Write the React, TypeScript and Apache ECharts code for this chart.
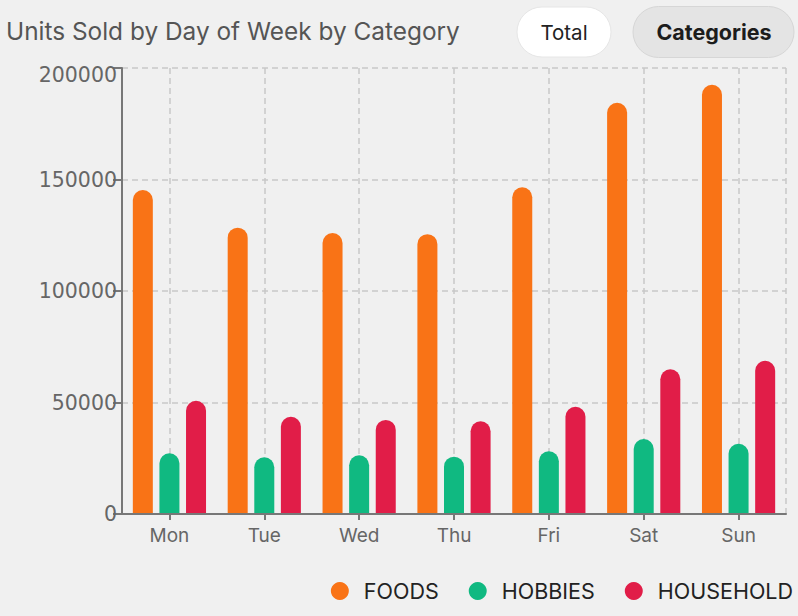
import React, { useEffect, useRef } from "react";
import * as echarts from "echarts";

const days = ["Mon", "Tue", "Wed", "Thu", "Fri", "Sat", "Sun"];
const foods = [145300, 128400, 126000, 125500, 146500, 184400, 192500];
const hobbies = [27200, 25400, 26300, 25700, 28100, 33600, 31500];
const household = [50800, 43600, 42200, 41600, 48100, 64900, 68700];
const yMax = 200000;
const yStep = 50000;
const titleText = "Units Sold by Day of Week by Category";
const buttons = ["Total", "Categories"];

const FONT = "Inter, 'Noto Sans', sans-serif";
const NUM_FONT = "'DejaVu Sans', Inter, sans-serif";

export default function App() {
  const ref = useRef<HTMLDivElement>(null);
  useEffect(() => {
    document.body.style.margin = "0";
    document.body.style.background = "#f0f0f0";
    const chart = echarts.init(ref.current!, null, { renderer: "svg" });
    // helper axis with half-step categories to draw vertical grid lines through category centers
    const halfSteps = Array.from({ length: days.length * 2 + 1 }, (_, i) => String(i));
    chart.setOption({
      animation: false,
      backgroundColor: "#f0f0f0",
      textStyle: { fontFamily: FONT },
      title: {
        text: titleText,
        left: 6,
        top: 19,
        padding: 0,
        textStyle: { fontFamily: FONT, fontSize: 24.4, fontWeight: "normal", color: "#555" },
      },
      graphic: [
        {
          type: "rect",
          shape: { x: 517, y: 7, width: 94, height: 50, r: 25 },
          style: { fill: "#ffffff", stroke: "#e6e6e6", lineWidth: 1 },
        },
        {
          type: "text",
          style: {
            text: buttons[0], x: 564, y: 32, align: "center", verticalAlign: "middle",
            font: `normal 20.5px ${FONT}`, fill: "#222",
          },
        },
        {
          type: "rect",
          shape: { x: 633, y: 6.5, width: 161, height: 51, r: 25.5 },
          style: { fill: "#e4e4e4", stroke: "#d6d6d6", lineWidth: 1 },
        },
        {
          type: "text",
          style: {
            text: buttons[1], x: 714, y: 32, align: "center", verticalAlign: "middle",
            font: `bold 21.5px ${FONT}`, fill: "#1c1c1c",
          },
        },
      ],
      legend: {
        data: ["FOODS", "HOBBIES", "HOUSEHOLD"],
        right: 5,
        top: 580,
        icon: "circle",
        itemWidth: 18,
        itemHeight: 18,
        itemGap: 30,
        padding: 0,
        textStyle: { fontFamily: FONT, fontSize: 21.5, color: "#222", padding: [0, 0, 0, 10] },
      },
      grid: { left: 122, right: 12, top: 68, bottom: 102, containLabel: false },
      xAxis: [
        {
          type: "category",
          data: days,
          axisLine: { show: true, lineStyle: { color: "#777", width: 2 } },
          axisTick: { show: true, alignWithLabel: true, length: 6, lineStyle: { color: "#777", width: 2 } },
          axisLabel: { color: "#666", fontSize: 19, fontFamily: FONT, margin: 12 },
          splitLine: { show: false },
          z: 3,
        },
        {
          type: "category",
          data: halfSteps,
          boundaryGap: false,
          position: "top",
          axisLine: { show: false },
          axisTick: { show: false },
          axisLabel: { show: false },
          splitLine: {
            show: true,
            interval: (index: number) => index % 2 === 1 || index === halfSteps.length - 1,
            lineStyle: { color: "#c8c8c8", type: [6, 4], width: 1.5 },
          },
        },
      ],
      yAxis: {
        type: "value",
        min: 0,
        max: yMax,
        interval: yStep,
        axisLine: { show: true, lineStyle: { color: "#777", width: 2 } },
        axisTick: { show: true, length: 9, lineStyle: { color: "#777", width: 2 } },
        axisLabel: {
          color: "#666",
          fontSize: 20.5,
          fontFamily: NUM_FONT,
          margin: 5,
          formatter: (v: number) => (v === yMax ? `{top|${v}}` : `${v}`),
          rich: { top: { color: "#666", fontSize: 20.5, fontFamily: NUM_FONT, padding: [14, 0, 0, 0] } },
        },
        splitLine: { show: true, lineStyle: { color: "#c8c8c8", type: [6, 4], width: 1.5 } },
      },
      series: [
        {
          name: "FOODS", type: "bar", data: foods, barWidth: 20, barGap: "33%",
          itemStyle: { color: "#F97316", borderRadius: [10, 10, 0, 0] },
        },
        {
          name: "HOBBIES", type: "bar", data: hobbies, barWidth: 20, barGap: "33%",
          itemStyle: { color: "#10B981", borderRadius: [10, 10, 0, 0] },
        },
        {
          name: "HOUSEHOLD", type: "bar", data: household, barWidth: 20, barGap: "33%",
          itemStyle: { color: "#E11D48", borderRadius: [10, 10, 0, 0] },
        },
      ],
    });
    return () => chart.dispose();
  }, []);
  return <div ref={ref} style={{ width: 798, height: 616 }} />;
}
